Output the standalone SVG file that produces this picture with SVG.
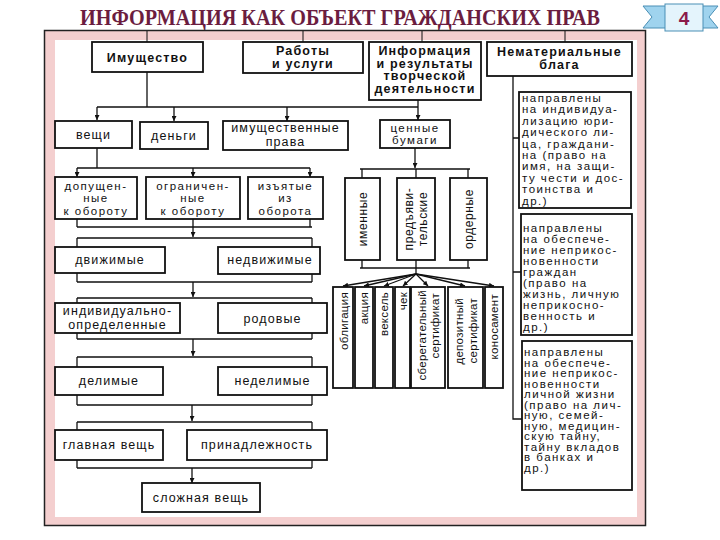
<svg xmlns="http://www.w3.org/2000/svg" width="720" height="540" viewBox="0 0 720 540">
<defs>
<marker id="a" viewBox="0 0 6 6" refX="6" refY="3" markerUnits="userSpaceOnUse" markerWidth="5" markerHeight="5" orient="auto"><path d="M0,0 L6,3 L0,6 z" fill="#111"/></marker>
<style>
.b{fill:#fff;stroke:#111;stroke-width:1.8}
.t{font-family:"Liberation Sans",Arial,sans-serif;font-size:12.5px;fill:#111;text-anchor:middle;letter-spacing:1.1px}
.s{font-size:11.5px;letter-spacing:1.5px}
.h{font-weight:bold;letter-spacing:1.2px}
.r{font-size:11.5px;text-anchor:start;letter-spacing:1.5px}
.v{font-size:12px;letter-spacing:0.6px}
.w{font-size:11.5px;text-anchor:end;letter-spacing:0.3px}
.c{fill:none;stroke:#111;stroke-width:1.3}
.c .m{marker-end:url(#a)}
</style>
</defs>
<rect width="720" height="540" fill="#fff"/>
<text transform="translate(340,25) scale(1,1.25)" x="0" y="0" font-family="Liberation Serif,'Times New Roman',serif" font-weight="bold" font-size="19" fill="#6b1d3f" text-anchor="middle" textLength="520" lengthAdjust="spacingAndGlyphs">ИНФОРМАЦИЯ КАК ОБЪЕКТ ГРАЖДАНСКИХ ПРАВ</text>
<g id="badge">
<polygon points="643,6 668,6 668,28 643,28 652,17" fill="#9fd3ee" stroke="#4a8fb5" stroke-width="1"/>
<polygon points="700,6 718,6 709,17 718,28 700,28" fill="#9fd3ee" stroke="#4a8fb5" stroke-width="1"/>
<rect x="665" y="4" width="38" height="27" fill="#e4f4fc" stroke="#4a8fb5" stroke-width="1"/>
<text x="684" y="25" font-family="Liberation Sans,Arial,sans-serif" font-weight="bold" font-size="19" fill="#8b1a4a" text-anchor="middle">4</text>
</g>
<g id="frame">
<rect x="44.5" y="30.5" width="601" height="495" fill="#f4cfcf" stroke="#222" stroke-width="1.5"/>
<rect x="55" y="40" width="582" height="477" fill="#fff"/>
</g>
<g id="connectors" class="c">
<path d="M147,31V42M303,31V42M422,31V42M565,31V42" stroke-width="1"/>
<path d="M147,72V107M97,107H418"/>
<path class="m" d="M97,107V120"/><path class="m" d="M174,107V121"/><path class="m" d="M287,107V121"/><path class="m" d="M418,100V120"/>
<path d="M97,148V168M77,168H310"/>
<path class="m" d="M77,168V177"/><path class="m" d="M193,168V177"/><path class="m" d="M310,168V177"/>
<path d="M77,219V227M193,219V227M310,219V227M77,227H312"/>
<path class="m" d="M193,227V237"/>
<path d="M77,238H312M77,238V247M312,238V247"/>
<path d="M77,273V282M312,274V282M77,282H312"/>
<path class="m" d="M193,282V297"/>
<path d="M77,298H312M77,298V303M312,298V303"/>
<path d="M77,333V339M312,333V339M77,339H312"/>
<path class="m" d="M193,339V356"/>
<path d="M77,357H312M77,357V367M312,357V367"/>
<path d="M77,395V405M312,395V405M77,405H312"/>
<path class="m" d="M192,405V421"/>
<path d="M77,422H312M77,422V430M312,422V430"/>
<path d="M77,460V468M312,460V468M77,468H312"/>
<path class="m" d="M192,468V483"/>
<path class="m" d="M415,148V168"/>
<path d="M360,169H470M362,169V178M416,169V178M468,169V178"/>
<path d="M362,260V268M416,260V268M468,260V268M360,268H470M416,268V274"/>
<path class="m" d="M416,274L343,286"/><path class="m" d="M416,274L364,286"/><path class="m" d="M416,274L384,286"/><path class="m" d="M416,274L403,286"/><path class="m" d="M416,274L428,286"/><path class="m" d="M416,274L465,286"/><path class="m" d="M416,274L494,286"/>
<path d="M513,76V419H522M513,138H519M513,272H521"/>
</g>
<g id="imushchestvo"><rect class="b" x="92" y="42" width="111" height="30"/><text class="t h" x="147.5" y="62">Имущество</text></g>
<g id="raboty"><rect class="b" x="243" y="42" width="120" height="31"/><text class="t h" x="303" y="55">Работы</text><text class="t h" x="303" y="68">и услуги</text></g>
<g id="informatsiya"><rect class="b" x="369" y="42" width="112" height="58"/><text class="t h" x="425" y="55">Информация</text><text class="t h" x="425" y="67.5">и результаты</text><text class="t h" x="425" y="80">творческой</text><text class="t h" x="425" y="93">деятельности</text></g>
<g id="nematerialnye"><rect class="b" x="487" y="42" width="145" height="34"/><text class="t h" x="559.5" y="56">Нематериальные</text><text class="t h" x="559.5" y="69">блага</text></g>
<g id="veshchi"><rect class="b" x="55" y="121" width="77" height="27"/><text class="t" x="93.5" y="139">вещи</text></g>
<g id="dengi"><rect class="b" x="140" y="122" width="68" height="27"/><text class="t" x="174" y="140">деньги</text></g>
<g id="imushch-prava"><rect class="b" x="223" y="121" width="125" height="29"/><text class="t" x="285.5" y="132">имущественные</text><text class="t" x="285.5" y="145.5">права</text></g>
<g id="tsennye"><rect class="b" x="380" y="120" width="70" height="28"/><text class="t s" x="415" y="131.5">ценные</text><text class="t s" x="415" y="144">бумаги</text></g>
<g id="dopushch"><rect class="b" x="55" y="177" width="82" height="42"/><text class="t s" x="96" y="189.5">допущен-</text><text class="t s" x="96" y="202">ные</text><text class="t s" x="96" y="214.5">к обороту</text></g>
<g id="ogranich"><rect class="b" x="146" y="177" width="94" height="42"/><text class="t s" x="193" y="189.5">ограничен-</text><text class="t s" x="193" y="202">ные</text><text class="t s" x="193" y="214.5">к обороту</text></g>
<g id="izyatye"><rect class="b" x="248" y="177" width="75" height="42"/><text class="t s" x="285.5" y="189.5">изъятые</text><text class="t s" x="285.5" y="202">из</text><text class="t s" x="285.5" y="214.5">оборота</text></g>
<g id="dvizhimye"><rect class="b" x="55" y="247" width="110" height="26"/><text class="t" x="110" y="264">движимые</text></g>
<g id="nedvizhimye"><rect class="b" x="218" y="247" width="102" height="27"/><text class="t" x="270" y="264">недвижимые</text></g>
<g id="individ"><rect class="b" x="55" y="303" width="125" height="30"/><text class="t" x="117.5" y="315">индивидуально-</text><text class="t" x="117.5" y="329">определенные</text></g>
<g id="rodovye"><rect class="b" x="218" y="303" width="109" height="30"/><text class="t" x="272.5" y="323">родовые</text></g>
<g id="delimye"><rect class="b" x="55" y="367" width="108" height="28"/><text class="t" x="109" y="385">делимые</text></g>
<g id="nedelimye"><rect class="b" x="218" y="367" width="109" height="28"/><text class="t" x="272.5" y="385">неделимые</text></g>
<g id="glavnaya"><rect class="b" x="55" y="430" width="108" height="30"/><text class="t" x="109" y="449">главная вещь</text></g>
<g id="prinadlezhnost"><rect class="b" x="187" y="430" width="140" height="30"/><text class="t" x="257" y="449">принадлежность</text></g>
<g id="slozhnaya"><rect class="b" x="142" y="483" width="118" height="29"/><text class="t" x="201" y="502">сложная вещь</text></g>
<g id="imennye"><rect class="b" x="345" y="178" width="35" height="82"/><text class="t v" transform="translate(367,219) rotate(-90)">именные</text></g>
<g id="predyavit"><rect class="b" x="397" y="178" width="38" height="82"/><text class="t v" transform="translate(413,219) rotate(-90)">предъяви-</text><text class="t v" transform="translate(427,219) rotate(-90)">тельские</text></g>
<g id="ordernye"><rect class="b" x="450" y="178" width="37" height="82"/><text class="t v" transform="translate(473,219) rotate(-90)">ордерные</text></g>
<g id="obligatsiya"><rect class="b" x="333" y="287" width="20" height="101"/><text class="t w" transform="translate(348,292) rotate(-90)">облигация</text></g>
<g id="aktsiya"><rect class="b" x="355" y="287" width="18" height="101"/><text class="t w" transform="translate(368,292) rotate(-90)">акция</text></g>
<g id="veksel"><rect class="b" x="375" y="287" width="18" height="101"/><text class="t w" transform="translate(388,292) rotate(-90)">вексель</text></g>
<g id="chek"><rect class="b" x="395" y="287" width="15" height="101"/><text class="t w" transform="translate(407,292) rotate(-90)">чек</text></g>
<g id="sberegat"><rect class="b" x="411" y="287" width="34" height="101"/><text class="t w" transform="translate(426,290) rotate(-90)">сберегательный</text><text class="t w" transform="translate(439,293) rotate(-90)">сертификат</text></g>
<g id="depozit"><rect class="b" x="448" y="287" width="35" height="101"/><text class="t w" transform="translate(463,298) rotate(-90)">депозитный</text><text class="t w" transform="translate(477,298) rotate(-90)">сертификат</text></g>
<g id="konosament"><rect class="b" x="485" y="287" width="18" height="101"/><text class="t w" transform="translate(498,294) rotate(-90)">коносамент</text></g>
<g id="nemat1"><rect class="b" x="519" y="92" width="112" height="116"/>
<text class="t r" x="522"><tspan x="522" y="102">направлены</tspan><tspan x="522" y="113.4">на индивидуа-</tspan><tspan x="522" y="124.8">лизацию юри-</tspan><tspan x="522" y="136.2">дического ли-</tspan><tspan x="522" y="147.6">ца, граждани-</tspan><tspan x="522" y="159">на (право на</tspan><tspan x="522" y="170.4">имя, на защи-</tspan><tspan x="522" y="181.8">ту чести и дос-</tspan><tspan x="522" y="193.2">тоинства и</tspan><tspan x="522" y="204.6">др.)</tspan></text></g>
<g id="nemat2"><rect class="b" x="521" y="214" width="111" height="121"/>
<text class="t r" x="523"><tspan x="523" y="232">направлены</tspan><tspan x="523" y="243">на обеспече-</tspan><tspan x="523" y="254">ние неприкос-</tspan><tspan x="523" y="265">новенности</tspan><tspan x="523" y="276">граждан</tspan><tspan x="523" y="287">(право на</tspan><tspan x="523" y="298">жизнь, личную</tspan><tspan x="523" y="309">неприкосно-</tspan><tspan x="523" y="320">венность и</tspan><tspan x="523" y="331">др.)</tspan></text></g>
<g id="nemat3"><rect class="b" x="522" y="341" width="110" height="149"/>
<text class="t r" x="524"><tspan x="524" y="356">направлены</tspan><tspan x="524" y="366.5">на обеспече-</tspan><tspan x="524" y="377">ние неприкос-</tspan><tspan x="524" y="387.5">новенности</tspan><tspan x="524" y="398">личной жизни</tspan><tspan x="524" y="408.5">(право на лич-</tspan><tspan x="524" y="419">ную, семей-</tspan><tspan x="524" y="429.5">ную, медицин-</tspan><tspan x="524" y="440">скую тайну,</tspan><tspan x="524" y="450.5">тайну вкладов</tspan><tspan x="524" y="461">в банках и</tspan><tspan x="524" y="471.5">др.)</tspan></text></g>
</svg>
